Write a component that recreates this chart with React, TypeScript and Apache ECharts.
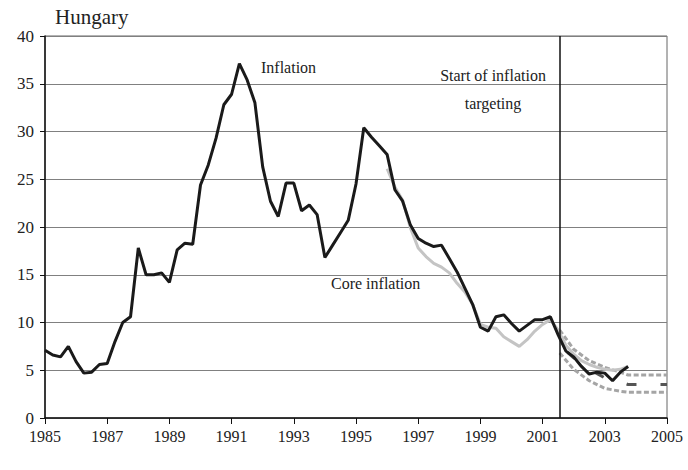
import React, { useEffect, useRef } from "react";
import * as echarts from "echarts";

// Quarterly data, 1985Q1 .. 2003Q4
const startYear = 1985;
const inflation = [
  7.1, 6.6, 6.4, 7.5,
  5.9, 4.7, 4.8, 5.6,
  5.7, 8.0, 10.0, 10.6,
  17.8, 15.0, 15.0, 15.2,
  14.2, 17.6, 18.3, 18.2,
  24.4, 26.5, 29.3, 32.8,
  33.9, 37.1, 35.4, 33.0,
  26.3, 22.7, 21.1, 24.6,
  24.6, 21.7, 22.3, 21.3,
  16.8, 18.1, 19.4, 20.7,
  24.5, 30.4, 29.4, 28.5,
  27.6, 23.9, 22.7, 20.2,
  18.8, 18.3, 17.95, 18.1,
  16.7, 15.3, 13.6, 11.9,
  9.5, 9.1, 10.6, 10.8,
  9.9, 9.1, 9.7, 10.3,
  10.3, 10.6, 8.7, 7.0,
  6.4, 5.4, 4.6, 4.8,
  4.7, 3.9, 4.8, 5.4,
];

// Core inflation, 1996Q1 .. 2003Q4
const coreStart = 1996;
const coreInflation = [
  26.1, 24.2, 22.8, 19.9,
  17.8, 16.9, 16.2, 15.8,
  15.2, 14.1, 13.2, 11.9,
  9.8, 9.5, 9.4, 8.5,
  8.0, 7.5, 8.2, 9.1,
  9.8, 10.3, 9.2, 7.6,
  6.7, 6.0, 5.6, 5.3,
  5.1, 5.0, 5.1, 5.4,
];

// Forecast band (dashed)
const bandX = [2001.55, 2002.0, 2002.5, 2003.0, 2003.5, 2003.75, 2005];
const forecastUpper = [9.2, 7.2, 6.0, 5.3, 4.8, 4.5, 4.5];
const forecastLower = [6.8, 5.1, 3.9, 3.1, 2.8, 2.7, 2.7];
const centralX = [2001.75, 2002.0, 2002.5, 2003.0, 2003.5, 2003.75, 2005];
const forecastCentral = [7.0, 6.3, 5.1, 4.2, 3.8, 3.5, 3.5];

const targetingStart = 2001.55;
const yTicks = [0, 5, 10, 15, 20, 25, 30, 35, 40];
const xTicks = [1985, 1987, 1989, 1991, 1993, 1995, 1997, 1999, 2001, 2003, 2005];

const FONT = "'Liberation Serif', 'Times New Roman', serif";

export default function App() {
  const ref = useRef<HTMLDivElement>(null);

  useEffect(() => {
    if (!ref.current) return;
    const chart = echarts.init(ref.current, undefined, { renderer: "svg" });

    const infData = inflation.map((v, i) => [startYear + i * 0.25, v]);
    const coreData = coreInflation.map((v, i) => [coreStart + i * 0.25, v]);
    const up = bandX.map((x, i) => [x, forecastUpper[i]]);
    const low = bandX.map((x, i) => [x, forecastLower[i]]);
    const mid = centralX.map((x, i) => [x, forecastCentral[i]]);

    chart.setOption({
      animation: false,
      backgroundColor: "#ffffff",
      textStyle: { fontFamily: FONT },
      grid: {
        left: 45,
        right: 21,
        top: 36,
        bottom: 52,
        show: true,
        borderColor: "#666666",
        borderWidth: 1,
      },
      xAxis: {
        type: "value",
        min: xTicks[0],
        max: xTicks[xTicks.length - 1],
        interval: 2,
        splitLine: { show: false },
        axisLine: { lineStyle: { color: "#111", width: 1.5 } },
        axisTick: { show: true, inside: false, length: 6, lineStyle: { color: "#111", width: 1 } },
        axisLabel: {
          color: "#222",
          fontFamily: FONT,
          fontSize: 16,
          margin: 10,
          formatter: (v: number) => String(Math.round(v)),
        },
      },
      yAxis: {
        type: "value",
        min: yTicks[0],
        max: yTicks[yTicks.length - 1],
        interval: 5,
        splitLine: { show: true, lineStyle: { color: "#808080", width: 1 } },
        axisLine: { show: true, lineStyle: { color: "#111", width: 1.5 } },
        axisTick: { show: true, inside: false, length: 5, lineStyle: { color: "#111", width: 1 } },
        axisLabel: {
          color: "#222",
          fontFamily: FONT,
          fontSize: 17,
          margin: 11,
        },
      },
      series: [
        {
          type: "line",
          data: up,
          symbol: "none",
          lineStyle: { color: "#a5a5a5", width: 3, type: [5, 2.5] },
          z: 2,
        },
        {
          type: "line",
          data: low,
          symbol: "none",
          lineStyle: { color: "#a5a5a5", width: 3, type: [5, 2.5] },
          z: 2,
        },
        {
          type: "line",
          data: mid,
          symbol: "none",
          lineStyle: { color: "#555555", width: 3, type: [10, 24], dashOffset: 32 },
          z: 3,
        },
        {
          type: "line",
          data: coreData,
          symbol: "none",
          lineStyle: { color: "#c4c4c4", width: 3 },
          z: 4,
        },
        {
          type: "line",
          data: infData,
          symbol: "none",
          lineStyle: { color: "#1a1a1a", width: 3 },
          z: 5,
          markLine: {
            silent: true,
            symbol: "none",
            label: { show: false },
            lineStyle: { color: "#111", width: 1.5, type: "solid" },
            data: [{ xAxis: targetingStart }],
          },
        },
      ],
      graphic: [
        {
          type: "text",
          left: 55,
          top: 6,
          style: { text: "Hungary", font: `21px ${FONT}`, fill: "#222" },
        },
        {
          type: "text",
          x: 261,
          y: 67,
          style: { text: "Inflation", font: `16px ${FONT}`, fill: "#222", textVerticalAlign: "middle" },
        },
        {
          type: "text",
          x: 493,
          y: 75,
          style: {
            text: "Start of inflation",
            font: `16px ${FONT}`,
            fill: "#222",
            textAlign: "center",
            textVerticalAlign: "middle",
          },
        },
        {
          type: "text",
          x: 493,
          y: 103,
          style: {
            text: "targeting",
            font: `16px ${FONT}`,
            fill: "#222",
            textAlign: "center",
            textVerticalAlign: "middle",
          },
        },
        {
          type: "text",
          x: 331,
          y: 283,
          style: { text: "Core inflation", font: `16px ${FONT}`, fill: "#222", textVerticalAlign: "middle" },
        },
      ],
    });

    return () => chart.dispose();
  }, []);

  return (
    <div
      ref={ref}
      style={{ position: "fixed", left: 0, top: 0, width: 688, height: 470, background: "#fff" }}
    />
  );
}
